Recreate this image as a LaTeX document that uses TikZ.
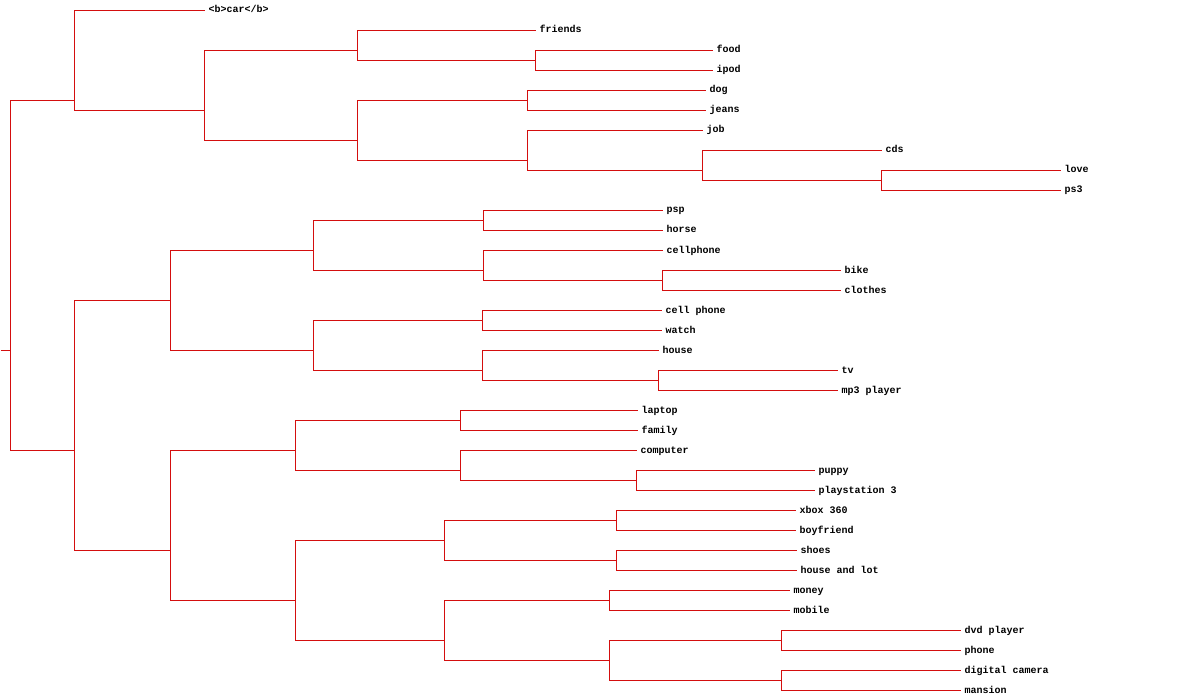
\documentclass[tikz,border=0pt]{standalone}
\usepackage{fontspec}
\newfontfamily\leaffont{Liberation Mono}
\definecolor{treered}{RGB}{212,14,14}

\begin{document}
\begin{tikzpicture}[x=1bp,y=-1bp,line width=1bp,
  every node/.style={anchor=west,inner xsep=4bp,inner ysep=0pt,outer sep=0pt,
    text height=7bp,text depth=2bp,font=\leaffont\bfseries\fontsize{10bp}{10bp}\selectfont}]
\useasboundingbox (-0.5,-0.5) rectangle (1199.5,699.5);

% joins
\coordinate(stub) at (0, 350);
\coordinate(root) at (10, 350);
\coordinate(a) at (74, 100);
\coordinate(a1) at (204, 110);
\coordinate(a1a) at (357, 50);
\coordinate(a1aa) at (535, 60);
\coordinate(a1b) at (357, 140);
\coordinate(a1ba) at (527, 100);
\coordinate(a1bb) at (527, 160);
\coordinate(a1bbb) at (702, 170);
\coordinate(a1bbbb) at (881, 180);
\coordinate(b) at (74, 450);
\coordinate(b1) at (170, 300);
\coordinate(b1a) at (313, 250);
\coordinate(b1aa) at (483, 220);
\coordinate(b1ab) at (483, 270);
\coordinate(b1abb) at (662, 280);
\coordinate(b1b) at (313, 350);
\coordinate(b1ba) at (482, 320);
\coordinate(b1bb) at (482, 370);
\coordinate(b1bbb) at (658, 380);
\coordinate(b2) at (170, 550);
\coordinate(b2a) at (295, 450);
\coordinate(b2aa) at (460, 420);
\coordinate(b2ab) at (460, 470);
\coordinate(b2abb) at (636, 480);
\coordinate(b2b) at (295, 600);
\coordinate(b2ba) at (444, 540);
\coordinate(b2baa) at (616, 520);
\coordinate(b2bab) at (616, 560);
\coordinate(b2bb) at (444, 640);
\coordinate(b2bba) at (609, 600);
\coordinate(b2bbb) at (609, 660);
\coordinate(b2bbba) at (781, 640);
\coordinate(b2bbbb) at (781, 680);

% leaves
\node(car) at (204, 10) {<b>car</b>};
\node(friends) at (535, 30) {friends};
\node(food) at (712, 50) {food};
\node(ipod) at (712, 70) {ipod};
\node(dog) at (705, 90) {dog};
\node(jeans) at (705, 110) {jeans};
\node(job) at (702, 130) {job};
\node(cds) at (881, 150) {cds};
\node(love) at (1060, 170) {love};
\node(psthree) at (1060, 190) {ps3};
\node(psp) at (662, 210) {psp};
\node(horse) at (662, 230) {horse};
\node(cellphone) at (662, 250) {cellphone};
\node(bike) at (840, 270) {bike};
\node(clothes) at (840, 290) {clothes};
\node(cellphn) at (661, 310) {cell phone};
\node(watch) at (661, 330) {watch};
\node(house) at (658, 350) {house};
\node(tv) at (837, 370) {tv};
\node(mpthree) at (837, 390) {mp3 player};
\node(laptop) at (637, 410) {laptop};
\node(family) at (637, 430) {family};
\node(computer) at (636, 450) {computer};
\node(puppy) at (814, 470) {puppy};
\node(playstation) at (814, 490) {playstation 3};
\node(xbox) at (795, 510) {xbox 360};
\node(boyfriend) at (795, 530) {boyfriend};
\node(shoes) at (796, 550) {shoes};
\node(houselot) at (796, 570) {house and lot};
\node(money) at (789, 590) {money};
\node(mobile) at (789, 610) {mobile};
\node(dvd) at (960, 630) {dvd player};
\node(phone) at (960, 650) {phone};
\node(camera) at (960, 670) {digital camera};
\node(mansion) at (960, 690) {mansion};

\begin{scope}[color=treered]
\draw (stub)--(root); \draw (root)|-(a); \draw (root)|-(b);
\draw (a)|-(car); \draw (a)|-(a1); \draw (a1)|-(a1a); \draw (a1)|-(a1b);
\draw (a1a)|-(friends); \draw (a1a)|-(a1aa); \draw (a1aa)|-(food); \draw (a1aa)|-(ipod);
\draw (a1b)|-(a1ba); \draw (a1b)|-(a1bb); \draw (a1ba)|-(dog); \draw (a1ba)|-(jeans);
\draw (a1bb)|-(job); \draw (a1bb)|-(a1bbb); \draw (a1bbb)|-(cds); \draw (a1bbb)|-(a1bbbb);
\draw (a1bbbb)|-(love); \draw (a1bbbb)|-(psthree);
\draw (b)|-(b1); \draw (b)|-(b2); \draw (b1)|-(b1a); \draw (b1)|-(b1b);
\draw (b1a)|-(b1aa); \draw (b1a)|-(b1ab); \draw (b1aa)|-(psp); \draw (b1aa)|-(horse);
\draw (b1ab)|-(cellphone); \draw (b1ab)|-(b1abb); \draw (b1abb)|-(bike); \draw (b1abb)|-(clothes);
\draw (b1b)|-(b1ba); \draw (b1b)|-(b1bb); \draw (b1ba)|-(cellphn); \draw (b1ba)|-(watch);
\draw (b1bb)|-(house); \draw (b1bb)|-(b1bbb); \draw (b1bbb)|-(tv); \draw (b1bbb)|-(mpthree);
\draw (b2)|-(b2a); \draw (b2)|-(b2b); \draw (b2a)|-(b2aa); \draw (b2a)|-(b2ab);
\draw (b2aa)|-(laptop); \draw (b2aa)|-(family); \draw (b2ab)|-(computer); \draw (b2ab)|-(b2abb);
\draw (b2abb)|-(puppy); \draw (b2abb)|-(playstation);
\draw (b2b)|-(b2ba); \draw (b2b)|-(b2bb); \draw (b2ba)|-(b2baa); \draw (b2ba)|-(b2bab);
\draw (b2baa)|-(xbox); \draw (b2baa)|-(boyfriend); \draw (b2bab)|-(shoes); \draw (b2bab)|-(houselot);
\draw (b2bb)|-(b2bba); \draw (b2bb)|-(b2bbb); \draw (b2bba)|-(money); \draw (b2bba)|-(mobile);
\draw (b2bbb)|-(b2bbba); \draw (b2bbb)|-(b2bbbb); \draw (b2bbba)|-(dvd); \draw (b2bbba)|-(phone);
\draw (b2bbbb)|-(camera); \draw (b2bbbb)|-(mansion);
\end{scope}
\end{tikzpicture}
\end{document}
